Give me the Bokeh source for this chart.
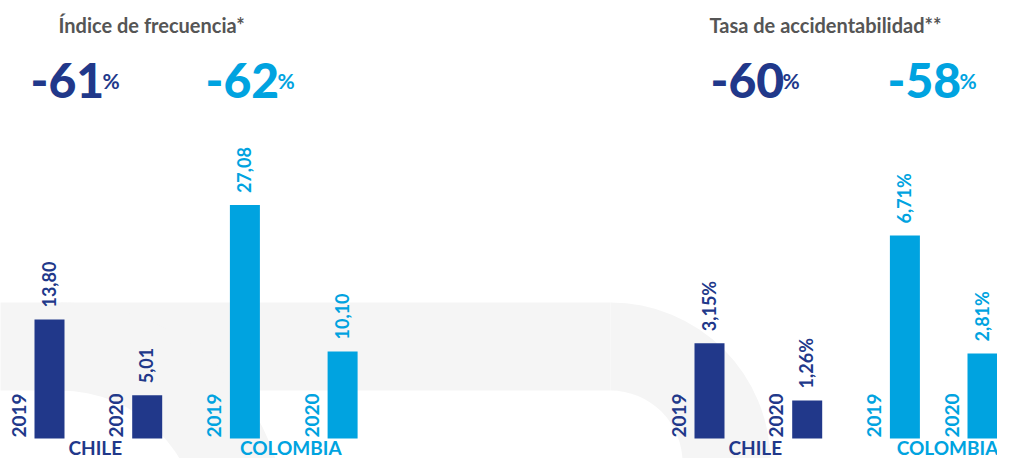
import numpy as np
from bokeh.plotting import figure
from bokeh.models import Range1d, ColumnDataSource
from bokeh.core.properties import value
from bokeh.embed import file_html
from bokeh.resources import INLINE

# ---------------- data ----------------
panel_titles = ["Índice de frecuencia*", "Tasa de accidentabilidad**"]
countries = ["CHILE", "COLOMBIA"]
years = ["2019", "2020"]
freq_chile = [13.80, 5.01]
freq_colombia = [27.08, 10.10]
acc_chile = [3.15, 1.26]
acc_colombia = [6.71, 2.81]
freq_change = ["-61", "-62"]
acc_change = ["-60", "-58"]

# ---------------- style ----------------
NAVY = "#21388A"
CYAN = "#00A3E0"
GRAY = "#555555"
BG = "#F5F5F5"
FONT = value("Lato")
BIGFONT = value("Lato Black")

W, H = 997, 458
# data coordinates: x = pixel from left, y = 474 - pixel from top
p = figure(width=W, height=H, x_range=Range1d(0, W), y_range=Range1d(474 - H, 474),
           output_backend="svg", toolbar_location=None, min_border=0,
           x_axis_location=None, y_axis_location=None, outline_line_color=None)
p.grid.visible = False
p.background_fill_color = "white"
p.border_fill_color = "white"

# decorative background band
p.quad(left=-10, right=610, bottom=84, top=172, color=BG, line_color=None)
p.annular_wedge(x=610, y=12, inner_radius=72, outer_radius=160, start_angle=0,
                end_angle=np.pi / 2, color=BG, line_color=None)
p.quad(left=682, right=770, bottom=-20, top=12, color=BG, line_color=None)
p.annular_wedge(x=60, y=-54, inner_radius=138, outer_radius=226, start_angle=0,
                end_angle=np.pi / 2, color=BG, line_color=None)

BASE_Y = 36  # y of bar baseline (pixel 438 from top)
panels = [
    dict(title=panel_titles[0], vals=[freq_chile, freq_colombia], changes=freq_change,
         rname="freq", suffix="", scale=8.62, title_x=58, big_x=[30, 205]),
    dict(title=panel_titles[1], vals=[acc_chile, acc_colombia], changes=acc_change,
         rname="acc", suffix="%", scale=30.25, title_x=709, big_x=[710, 887]),
]

PITCH = 97.7
X_MAX = W - 15  # keep last bar and its label inside the frame

for k, pan in enumerate(panels):
    off = 660 * k
    s = pan["scale"]
    p.extra_y_ranges[pan["rname"]] = Range1d((474 - H - BASE_Y) / s, (474 - BASE_Y) / s)
    xs, tops, cols, labels, yrs = [], [], [], [], []
    for ci, country in enumerate(countries):
        col = [NAVY, CYAN][ci]
        for yi, yr in enumerate(years):
            idx = ci * 2 + yi
            v = pan["vals"][ci][yi]
            xs.append(min(off + 49 + idx * PITCH, X_MAX))
            tops.append(v)
            cols.append(col)
            labels.append(f"{v:.2f}".replace(".", ",") + pan["suffix"])
            yrs.append(yr)
    src = ColumnDataSource(dict(x=xs, top=tops, color=cols, label=labels, year=yrs,
                                xl=[x - 1 for x in xs], xy=[x - 31 for x in xs],
                                zero=[0] * len(xs)))
    p.vbar(x="x", top="top", bottom=0, width=30, color="color", line_color=None,
           source=src, y_range_name=pan["rname"])
    p.text(x="xl", y="top", text="label", angle=np.pi / 2, text_align="left",
           text_baseline="middle", y_offset=-12, text_color="color", source=src,
           y_range_name=pan["rname"], text_font=FONT, text_font_style="bold",
           text_font_size="18px")
    p.text(x="xy", y="zero", text="year", angle=np.pi / 2, text_align="left",
           text_baseline="middle", y_offset=-1, text_color="color", source=src,
           y_range_name=pan["rname"], text_font=FONT, text_font_style="bold",
           text_font_size="19px")
    # country labels
    cx = [off + 46 + (2 * ci + 0.5) * PITCH for ci in range(len(countries))]
    cx[1] = min(cx[1], 947)
    p.text(x=cx, y=[27] * 2, text=countries, text_align="center", text_baseline="middle",
           text_color=[NAVY, CYAN], text_font=FONT, text_font_style="bold",
           text_font_size="19px")
    # title
    p.text(x=[pan["title_x"]], y=[450], text=[pan["title"]], text_align="left",
           text_baseline="alphabetic", text_color=GRAY, text_font=FONT,
           text_font_style="bold", text_font_size="20px")
    # big change numbers
    bx = pan["big_x"]
    p.text(x=bx, y=[394] * 2, text=pan["changes"], text_align="left",
           text_baseline="alphabetic", text_color=[NAVY, CYAN], text_font=BIGFONT,
           text_font_style="bold", text_font_size="48px")
    p.text(x=[b + 72 for b in bx], y=[394] * 2, text=["%", "%"], text_align="left",
           text_baseline="alphabetic", text_color=[NAVY, CYAN], text_font=FONT,
           text_font_style="bold", text_font_size="21px")

open("out.html", "w").write(file_html(p, INLINE))
